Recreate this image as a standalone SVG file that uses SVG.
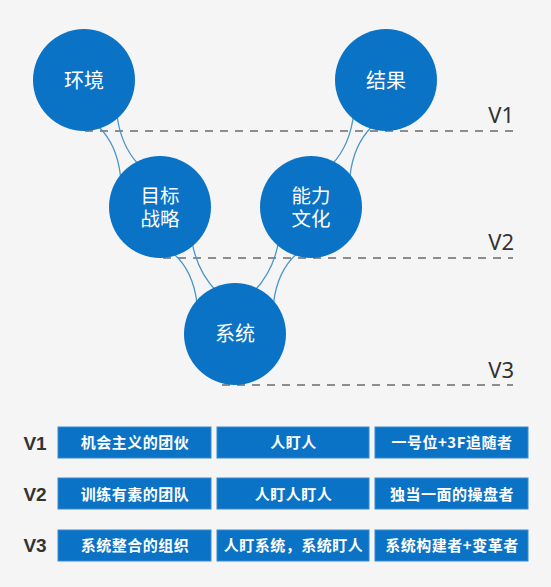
<svg xmlns="http://www.w3.org/2000/svg" width="551" height="587" viewBox="0 0 551 587">
<style>
.bg{fill:#f5f5f5}
.node{fill:#0b73c6}
.ntext{font-family:"Noto Sans CJK SC","Noto Sans",sans-serif;font-size:20px;fill:#ffffff;text-anchor:middle}
.ntext2{font-family:"Noto Sans CJK SC","Noto Sans",sans-serif;font-size:19.5px;fill:#ffffff;text-anchor:middle}
.conn{fill:none;stroke:#4a96c8;stroke-width:1.3}
.dash{stroke:#6b6b6b;stroke-width:1.5;stroke-dasharray:8 7;fill:none}
.vlab{font-family:"Noto Sans","Noto Sans CJK SC",sans-serif;font-size:22px;fill:#333333;text-anchor:end}
.cell{fill:#0b73c6;stroke:#3a8ad0;stroke-width:1}
.ctext{font-family:"Noto Sans CJK SC","Noto Sans",sans-serif;font-size:15px;font-weight:bold;fill:#ffffff;text-anchor:middle;letter-spacing:0.5px}
.rlab{font-family:"Liberation Sans",Arial,sans-serif;font-size:19px;font-weight:bold;fill:#333333;text-anchor:middle}
</style>
<rect class="bg" x="0" y="0" width="551" height="587"/>
<g id="levels">
<line class="dash" x1="85" y1="131" x2="513" y2="131"/>
<line class="dash" x1="163" y1="258" x2="513" y2="258"/>
<line class="dash" x1="222" y1="385" x2="513" y2="385"/>
<text class="vlab" x="514" y="123">V1</text>
<text class="vlab" x="514" y="250">V2</text>
<text class="vlab" x="514" y="378">V3</text>
</g>
<g id="connectors">
<path class="conn" d="M99,127 Q117,145 120.5,176"/>
<path class="conn" d="M116.6,112 Q120,145 139,165"/>
<path class="conn" d="M174,254 Q193,271 197,303"/>
<path class="conn" d="M191.6,239 Q196,270 217,292"/>
<path class="conn" d="M371.5,127 Q353.5,145 350,176"/>
<path class="conn" d="M353.9,112 Q350.5,145 331.5,165"/>
<path class="conn" d="M296.5,254 Q277.5,271 273.5,303"/>
<path class="conn" d="M278.9,239 Q274.5,270 253.5,292"/>
</g>
<g id="node-huanjing">
<circle class="node" cx="84" cy="80" r="51"/>
<text class="ntext" x="84" y="88">环境</text>
</g>
<g id="node-jieguo">
<circle class="node" cx="386" cy="80" r="51"/>
<text class="ntext" x="386" y="88">结果</text>
</g>
<g id="node-mubiao">
<circle class="node" cx="160" cy="207" r="51"/>
<text class="ntext2" x="160" y="202.5">目标</text>
<text class="ntext2" x="160" y="226">战略</text>
</g>
<g id="node-nengli">
<circle class="node" cx="311" cy="207" r="51"/>
<text class="ntext2" x="311" y="202.5">能力</text>
<text class="ntext2" x="311" y="226">文化</text>
</g>
<g id="node-xitong">
<circle class="node" cx="235" cy="334" r="51"/>
<text class="ntext" x="235" y="341">系统</text>
</g>
<g id="table">
<g id="row-v1">
<text class="rlab" x="35" y="450">V1</text>
<rect class="cell" x="58" y="427" width="153" height="31"/>
<text class="ctext" x="135" y="448">机会主义的团伙</text>
<rect class="cell" x="217" y="427" width="152" height="31"/>
<text class="ctext" x="293.5" y="448">人盯人</text>
<rect class="cell" x="375" y="427" width="153" height="31"/>
<text class="ctext" x="452" y="448">一号位+3F追随者</text>
</g>
<g id="row-v2">
<text class="rlab" x="35" y="501">V2</text>
<rect class="cell" x="58" y="478" width="153" height="31"/>
<text class="ctext" x="135" y="499.5">训练有素的团队</text>
<rect class="cell" x="217" y="478" width="152" height="31"/>
<text class="ctext" x="293.5" y="499.5">人盯人盯人</text>
<rect class="cell" x="375" y="478" width="153" height="31"/>
<text class="ctext" x="452" y="499.5">独当一面的操盘者</text>
</g>
<g id="row-v3">
<text class="rlab" x="35" y="552">V3</text>
<rect class="cell" x="58" y="530" width="153" height="31"/>
<text class="ctext" x="135" y="551">系统整合的组织</text>
<rect class="cell" x="217" y="530" width="152" height="31"/>
<text class="ctext" x="293.5" y="551">人盯系统，系统盯人</text>
<rect class="cell" x="375" y="530" width="153" height="31"/>
<text class="ctext" x="452" y="551">系统构建者+变革者</text>
</g>
</g>
</svg>
